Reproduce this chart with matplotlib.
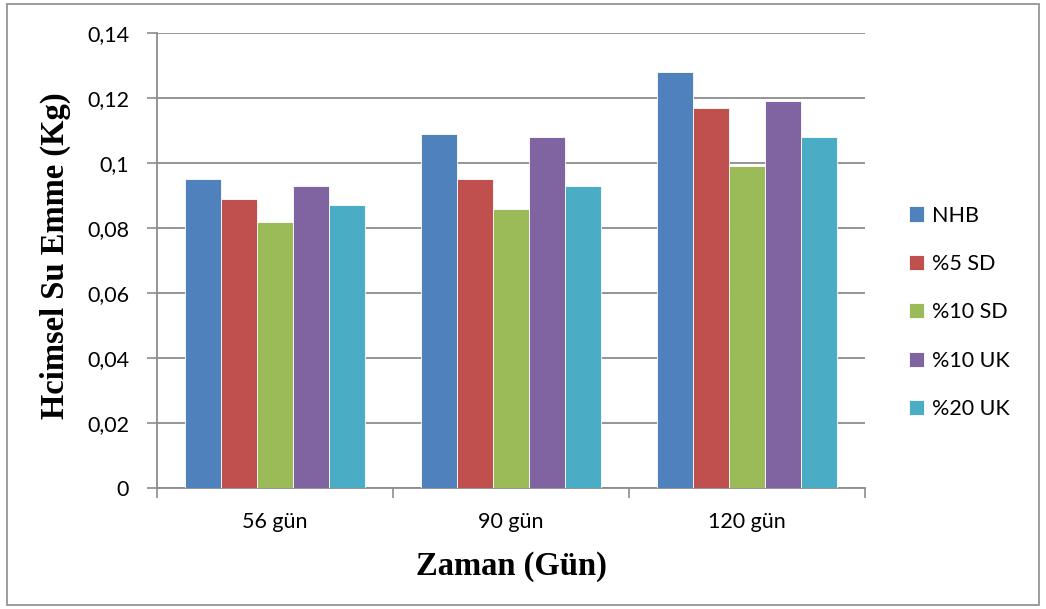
import matplotlib.pyplot as plt
import numpy as np
from matplotlib.patches import Rectangle

# veri
gunler = ['56 gün', '90 gün', '120 gün']
seriler = ['NHB', '%5 SD', '%10 SD', '%10 UK', '%20 UK']
nhb = [0.095, 0.109, 0.128]
sd5 = [0.089, 0.095, 0.117]
sd10 = [0.082, 0.086, 0.099]
uk10 = [0.093, 0.108, 0.119]
uk20 = [0.087, 0.093, 0.108]
renkler = ['#4f81bd', '#c0504d', '#9bbb59', '#8064a2', '#4bacc6']

fig = plt.figure(figsize=(10.46, 6.09), dpi=100)
fig.patches.append(Rectangle((0.007, 0.006), 0.986, 0.988, transform=fig.transFigure,
                             fill=False, edgecolor='#8c8c8c', linewidth=1.2))
ax = fig.add_axes([0.150, 0.1987, 0.677, 0.7471])

x = np.arange(len(gunler))
w = 0.153
for i, (vals, label) in enumerate(zip([nhb, sd5, sd10, uk10, uk20], seriler)):
    ax.bar(x + (i - 2) * w, vals, w, color=renkler[i], label=label,
           edgecolor='white', linewidth=0.6, zorder=3)

ax.set_xlim(-0.5, 2.5)
ax.set_ylim(0, 0.14)
yt = np.arange(0, 0.141, 0.02)
ax.set_yticks(yt)
ax.set_yticklabels(['0', '0,02', '0,04', '0,06', '0,08', '0,1', '0,12', '0,14'])
ax.yaxis.grid(True, color='#8c8c8c', linewidth=1.3, zorder=0)
ax.set_xticks(x)
ax.set_xticklabels(gunler)
ax.set_xticks([-0.5, 0.5, 1.5, 2.5], minor=True)
ax.tick_params(axis='x', which='major', length=0, pad=17, labelsize=15.5)
ax.tick_params(axis='x', which='minor', length=7, color='#8c8c8c', width=1.2)
ax.tick_params(axis='y', length=7, color='#8c8c8c', width=1.2, pad=13, labelsize=15.5)
for lab in ax.get_xticklabels() + ax.get_yticklabels():
    lab.set_family('Lato')

for s in ['top', 'right']:
    ax.spines[s].set_visible(False)
for s in ['left', 'bottom']:
    ax.spines[s].set_color('#8c8c8c')
    ax.spines[s].set_linewidth(1.3)

ax.set_xlabel('Zaman (Gün)', family='Liberation Serif', fontweight='bold', fontsize=23.5, labelpad=14)
ax.set_ylabel('Hcimsel Su Emme (Kg)', family='Liberation Serif', fontweight='bold', fontsize=23.5)
ax.yaxis.set_label_coords(-0.122, 0.51)

ax.legend(loc='center left', bbox_to_anchor=(1.035, 0.386), frameon=False,
          prop={'family': 'Lato', 'size': 15.5}, handlelength=0.7, handleheight=0.7,
          handletextpad=0.35, labelspacing=1.32)

fig.savefig('out.png')
